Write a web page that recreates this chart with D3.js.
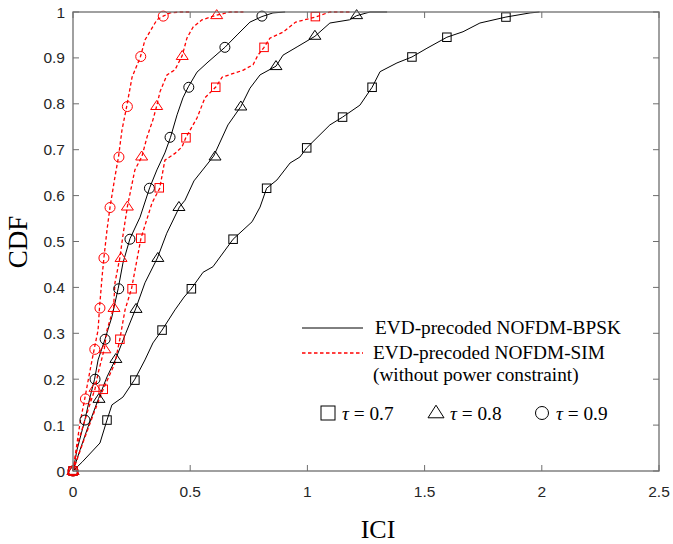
<!DOCTYPE html>
<html><head><meta charset="utf-8">
<script src="https://cdn.jsdelivr.net/npm/d3@7/dist/d3.min.js"></script>
<style>html,body{margin:0;padding:0;background:#fff}svg{display:block}</style>
</head><body><svg id="c" width="673" height="544"></svg>
<script>
// ---- data ----
const xTicks = [0, 0.5, 1, 1.5, 2, 2.5];
const yTicks = [0, 0.1, 0.2, 0.3, 0.4, 0.5, 0.6, 0.7, 0.8, 0.9, 1];
const xLabel = "ICI";
const yLabel = "CDF";
const legendLabels = ["EVD-precoded NOFDM-BPSK", "EVD-precoded NOFDM-SIM", "(without power constraint)"];
const tauLabels = ["0.7", "0.8", "0.9"];

// BPSK (black, solid)
const bpsk07Line = [[0,0],[0.04,0.02],[0.115,0.061],[0.145,0.111],[0.166,0.144],[0.213,0.161],[0.264,0.2],[0.307,0.242],[0.341,0.279],[0.38,0.307],[0.435,0.351],[0.474,0.379],[0.503,0.396],[0.555,0.433],[0.597,0.445],[0.683,0.505],[0.764,0.543],[0.798,0.575],[0.826,0.616],[0.87,0.634],[0.926,0.671],[0.968,0.684],[0.997,0.704],[1.096,0.754],[1.15,0.771],[1.224,0.797],[1.276,0.836],[1.31,0.87],[1.382,0.889],[1.446,0.902],[1.51,0.921],[1.595,0.945],[1.664,0.957],[1.736,0.976],[1.847,0.989],[1.95,0.998],[1.99,1.0]];
const bpsk07Marks = [[0,0],[0.145,0.111],[0.264,0.198],[0.38,0.307],[0.505,0.397],[0.683,0.505],[0.826,0.616],[0.997,0.704],[1.15,0.771],[1.276,0.836],[1.446,0.902],[1.595,0.945],[1.847,0.989]];
const bpsk08Line = [[0,0],[0.03,0.046],[0.064,0.096],[0.109,0.158],[0.145,0.205],[0.183,0.245],[0.225,0.3],[0.267,0.353],[0.307,0.41],[0.36,0.464],[0.4,0.518],[0.454,0.575],[0.478,0.59],[0.516,0.632],[0.6,0.686],[0.661,0.754],[0.716,0.794],[0.755,0.834],[0.798,0.863],[0.866,0.882],[0.896,0.906],[0.956,0.924],[1.032,0.947],[1.096,0.976],[1.18,0.983],[1.21,0.992],[1.267,1.0],[1.34,1.0]];
const bpsk08Marks = [[0,0],[0.111,0.157],[0.183,0.244],[0.269,0.353],[0.362,0.464],[0.452,0.575],[0.606,0.685],[0.716,0.794],[0.866,0.882],[1.032,0.948],[1.21,0.993]];
const bpsk09Line = [[0,0],[0.017,0.046],[0.051,0.112],[0.072,0.16],[0.092,0.2],[0.107,0.242],[0.137,0.288],[0.166,0.336],[0.193,0.398],[0.213,0.453],[0.243,0.506],[0.286,0.553],[0.327,0.617],[0.358,0.656],[0.392,0.693],[0.416,0.727],[0.444,0.776],[0.469,0.813],[0.492,0.837],[0.529,0.869],[0.576,0.891],[0.648,0.923],[0.7,0.95],[0.755,0.978],[0.806,0.99],[0.853,0.998],[0.905,1.0]];
const bpsk09Marks = [[0,0],[0.051,0.111],[0.094,0.2],[0.137,0.287],[0.195,0.397],[0.243,0.505],[0.326,0.616],[0.414,0.727],[0.494,0.836],[0.648,0.923],[0.806,0.991]];

// SIM (red, dashed)
const sim07Line = [[0,0],[0.051,0.074],[0.094,0.133],[0.128,0.177],[0.179,0.235],[0.2,0.288],[0.222,0.351],[0.25,0.398],[0.29,0.507],[0.337,0.584],[0.37,0.616],[0.392,0.677],[0.435,0.692],[0.465,0.706],[0.482,0.727],[0.529,0.769],[0.563,0.813],[0.61,0.837],[0.636,0.858],[0.725,0.873],[0.768,0.885],[0.789,0.906],[0.815,0.923],[0.84,0.943],[0.896,0.956],[0.95,0.978],[1.035,0.989],[1.096,1.0],[1.18,1.0]];
const sim07Marks = [[0,0],[0.129,0.178],[0.2,0.287],[0.252,0.397],[0.289,0.507],[0.368,0.617],[0.482,0.726],[0.609,0.836],[0.815,0.923],[1.034,0.99]];
const sim08Line = [[0,0],[0.021,0.061],[0.064,0.133],[0.094,0.179],[0.107,0.213],[0.134,0.267],[0.145,0.307],[0.173,0.355],[0.179,0.41],[0.2,0.465],[0.215,0.52],[0.232,0.576],[0.264,0.656],[0.294,0.685],[0.316,0.728],[0.341,0.765],[0.357,0.795],[0.371,0.826],[0.401,0.863],[0.435,0.874],[0.466,0.905],[0.486,0.943],[0.512,0.967],[0.55,0.983],[0.613,0.993],[0.67,1.0],[0.727,1.0]];
const sim08Marks = [[0,0],[0.094,0.181],[0.136,0.265],[0.175,0.355],[0.205,0.464],[0.232,0.576],[0.293,0.685],[0.357,0.795],[0.466,0.904],[0.613,0.993]];
const sim09Line = [[0,0],[0.013,0.046],[0.03,0.105],[0.05,0.157],[0.073,0.22],[0.091,0.267],[0.107,0.307],[0.113,0.355],[0.124,0.423],[0.132,0.465],[0.145,0.525],[0.158,0.575],[0.179,0.641],[0.194,0.684],[0.209,0.743],[0.229,0.794],[0.252,0.858],[0.288,0.903],[0.307,0.939],[0.358,0.983],[0.385,0.991],[0.414,0.998],[0.456,1.0],[0.5,1.0]];
const sim09Marks = [[0,0],[0.053,0.157],[0.093,0.265],[0.115,0.355],[0.132,0.464],[0.158,0.574],[0.196,0.684],[0.232,0.794],[0.289,0.903],[0.385,0.991]];

const series = [
  {line: bpsk07Line, marks: bpsk07Marks, shape: "square", color: "#000", dash: null},
  {line: bpsk08Line, marks: bpsk08Marks, shape: "triangle", color: "#000", dash: null},
  {line: bpsk09Line, marks: bpsk09Marks, shape: "circle", color: "#000", dash: null},
  {line: sim07Line, marks: sim07Marks, shape: "square", color: "#ff0000", dash: "3.5,2.5"},
  {line: sim08Line, marks: sim08Marks, shape: "triangle", color: "#ff0000", dash: "3.5,2.5"},
  {line: sim09Line, marks: sim09Marks, shape: "circle", color: "#ff0000", dash: "3.5,2.5"}
];

// ---- drawing ----
const svg = d3.select("#c");
const L = 73, R = 659, T = 12, B = 471;
const x = d3.scaleLinear().domain([0, 2.5]).range([L, R]);
const y = d3.scaleLinear().domain([0, 1]).range([B, T]);
const axisColor = "#6e6e6e";
const tickFont = "'Liberation Sans', Arial, sans-serif";
const serif = "'Liberation Serif', 'Times New Roman', serif";

const plot = svg.append("g");
const lineGen = d3.line().x(d => x(d[0])).y(d => y(d[1]));

function marker(g, shape, cx, cy, size, color) {
  if (shape === "square") {
    g.append("rect").attr("x", cx - size/2).attr("y", cy - size/2).attr("width", size).attr("height", size)
      .attr("fill", "none").attr("stroke", color).attr("stroke-width", 1);
  } else if (shape === "circle") {
    g.append("circle").attr("cx", cx).attr("cy", cy).attr("r", size/2)
      .attr("fill", "none").attr("stroke", color).attr("stroke-width", 1);
  } else {
    const h = size * 0.9;
    g.append("path").attr("d", `M${cx},${cy - h*0.62}L${cx + size/2 + 1},${cy + h*0.38}L${cx - size/2 - 1},${cy + h*0.38}Z`)
      .attr("fill", "none").attr("stroke", color).attr("stroke-width", 1);
  }
}

series.forEach(s => {
  plot.append("path").datum(s.line).attr("d", lineGen)
    .attr("fill", "none").attr("stroke", s.color)
    .attr("stroke-width", s.dash ? 1.3 : 1)
    .attr("stroke-dasharray", s.dash);
});
series.forEach(s => {
  const g = plot.append("g");
  const sz = s.shape === "square" ? 8.5 : 10;
  s.marks.forEach(d => marker(g, s.shape, x(d[0]), y(d[1]), sz, s.color));
});

// axes box
const ax = svg.append("g");
ax.append("rect").attr("x", L).attr("y", T).attr("width", R - L).attr("height", B - T)
  .attr("fill", "none").attr("stroke", axisColor).attr("stroke-width", 1.3);
const tl = 6;
xTicks.forEach(t => {
  ax.append("line").attr("x1", x(t)).attr("x2", x(t)).attr("y1", B).attr("y2", B - tl).attr("stroke", axisColor);
  ax.append("line").attr("x1", x(t)).attr("x2", x(t)).attr("y1", T).attr("y2", T + tl).attr("stroke", axisColor);
  ax.append("text").attr("x", x(t)).attr("y", B + 26).attr("text-anchor", "middle")
    .attr("font-family", tickFont).attr("font-size", 15.5).attr("fill", "#262626").text(d3.format("~g")(t));
});
yTicks.forEach(t => {
  ax.append("line").attr("x1", L).attr("x2", L + tl).attr("y1", y(t)).attr("y2", y(t)).attr("stroke", axisColor);
  ax.append("line").attr("x1", R).attr("x2", R - tl).attr("y1", y(t)).attr("y2", y(t)).attr("stroke", axisColor);
  ax.append("text").attr("x", L - 8).attr("y", y(t) + 5.5).attr("text-anchor", "end")
    .attr("font-family", tickFont).attr("font-size", 15.5).attr("fill", "#262626").text(d3.format("~g")(t));
});

// axis labels
svg.append("text").attr("x", 378).attr("y", 538).attr("text-anchor", "middle")
  .attr("font-family", serif).attr("font-size", 26).attr("fill", "#000").text(xLabel);
svg.append("text").attr("transform", "translate(27,242) rotate(-90)").attr("text-anchor", "middle")
  .attr("font-family", serif).attr("font-size", 27).attr("fill", "#000").text(yLabel);

// legend
const lg = svg.append("g");
lg.append("line").attr("x1", 302).attr("x2", 363).attr("y1", 328).attr("y2", 328).attr("stroke", "#000").attr("stroke-width", 1);
lg.append("line").attr("x1", 302).attr("x2", 363).attr("y1", 353).attr("y2", 353).attr("stroke", "#ff0000").attr("stroke-width", 1.3).attr("stroke-dasharray", "3.5,2.5");
lg.append("text").attr("x", 375).attr("y", 334).attr("font-family", serif).attr("font-size", 19.3).attr("fill", "#000").text(legendLabels[0]);
lg.append("text").attr("x", 373).attr("y", 359).attr("font-family", serif).attr("font-size", 19.3).attr("fill", "#000").text(legendLabels[1]);
lg.append("text").attr("x", 373).attr("y", 381).attr("font-family", serif).attr("font-size", 19.3).attr("fill", "#000").text(legendLabels[2]);

const shapes = ["square", "triangle", "circle"];
const lmX = [328, 436, 542];
shapes.forEach((sh, i) => {
  marker(lg, sh, lmX[i], 413, sh === "circle" ? 13 : 14, "#000");
  const tx = lg.append("text").attr("x", lmX[i] + 14).attr("y", 420)
    .attr("font-family", serif).attr("font-size", 19.3).attr("fill", "#000");
  tx.append("tspan").attr("font-style", "italic").text("\u03C4");
  tx.append("tspan").text(" = " + tauLabels[i]);
});
</script></body></html>
